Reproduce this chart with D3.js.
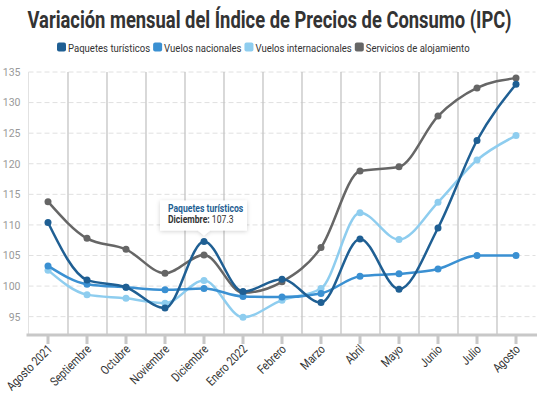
<!DOCTYPE html>
<html>
<head>
<meta charset="utf-8">
<script src="https://cdn.jsdelivr.net/npm/d3@7"></script>
<style>
  body { margin: 0; background: #fff; }
  text { font-family: Roboto, "Noto Sans", sans-serif; }
</style>
</head>
<body>
<div id="chart"></div>
<script>
// data
var months = ["Agosto 2021", "Septiembre", "Octubre", "Noviembre", "Diciembre", "Enero 2022",
  "Febrero", "Marzo", "Abril", "Mayo", "Junio", "Julio", "Agosto"];
var seriesNames = ["Paquetes turísticos", "Vuelos nacionales", "Vuelos internacionales", "Servicios de alojamiento"];
var paquetes = [110.4, 101.0, 99.8, 96.4, 107.3, 99.1, 101.1, 97.3, 107.7, 99.5, 109.5, 123.8, 133.0];
var nacionales = [103.3, 100.3, 99.8, 99.4, 99.6, 98.3, 98.2, 98.8, 101.6, 102.0, 102.8, 105.0, 105.0];
var internacionales = [102.6, 98.6, 98.0, 97.2, 100.9, 94.9, 97.7, 99.6, 112.0, 107.6, 113.7, 120.6, 124.6];
var alojamiento = [113.8, 107.8, 106.0, 102.1, 105.1, 98.9, 100.7, 106.3, 118.8, 119.5, 127.8, 132.4, 134.0];
var yTicks = [95, 100, 105, 110, 115, 120, 125, 130, 135];

var colors = ["#1f5f93", "#3a90d2", "#8ecdef", "#666666"];
var allSeries = [paquetes, nacionales, internacionales, alojamiento];

var svgWidth = 539, svgHeight = 395;
var margin = { top: 72, right: 4, bottom: 60, left: 28.5 };
var width = 535.5 - margin.left;
var height = 335 - margin.top;

var svg = d3.select("#chart").append("svg")
  .attr("width", svgWidth)
  .attr("height", svgHeight);

// squeeze a text to look like a condensed face, returns new width
function condense(sel, k) {
  var total = 0;
  sel.each(function() {
    var w = this.getComputedTextLength() * k;
    total = w;
    d3.select(this).attr("textLength", w).attr("lengthAdjust", "spacingAndGlyphs");
  });
  return total;
}

// title
svg.append("text")
  .attr("x", 269.5).attr("y", 28)
  .attr("text-anchor", "middle")
  .style("font-size", "24px").style("font-weight", "bold").style("fill", "#333")
  .text("Variación mensual del Índice de Precios de Consumo (IPC)")
  .attr("textLength", 484).attr("lengthAdjust", "spacingAndGlyphs");

// legend
var legend = svg.append("g");
var lx = 57;
seriesNames.forEach(function(name, i) {
  legend.append("rect")
    .attr("x", lx).attr("y", 42.5).attr("width", 9).attr("height", 9)
    .attr("rx", 2).attr("fill", colors[i]);
  var t = legend.append("text")
    .attr("x", lx + 11).attr("y", 51.5)
    .style("font-size", "11.5px").style("fill", "#333")
    .text(name);
  var w = condense(t, 0.83);
  lx += 11 + w + 3;
});

var chart = svg.append("g")
  .attr("transform", "translate(" + margin.left + "," + margin.top + ")");

var x = d3.scaleBand().domain(months).range([0, width]);
var y = d3.scaleLinear().domain([92, 135]).range([height, 0]);

function cx(i) { return x(months[i]) + x.bandwidth() / 2; }

// horizontal dashed grid
chart.append("g").selectAll("line")
  .data(yTicks).enter().append("line")
  .attr("x1", 0).attr("x2", width)
  .attr("y1", function(d) { return y(d); }).attr("y2", function(d) { return y(d); })
  .attr("stroke", "#e0e0e0").attr("stroke-dasharray", "5,3");

// vertical band boundaries
chart.append("g").selectAll("line")
  .data(months.slice(1)).enter().append("line")
  .attr("x1", function(d) { return Math.round(x(d)) + 0.5; })
  .attr("x2", function(d) { return Math.round(x(d)) + 0.5; })
  .attr("y1", 0).attr("y2", height)
  .attr("stroke", "#c4c4c4").attr("stroke-width", 1.3);
chart.append("line")
  .attr("x1", 0).attr("x2", 0).attr("y1", 0).attr("y2", height)
  .attr("stroke", "#e2e2e2");

// y axis labels
var leftAxis = d3.axisLeft(y).tickValues(yTicks).tickSize(0).tickPadding(8);
var ya = chart.append("g").call(leftAxis);
ya.select(".domain").remove();
ya.selectAll("text").style("font-size", "10.5px").style("fill", "#999")
  .style("font-family", "Roboto, sans-serif");

// x axis
var bottomAxis = d3.axisBottom(x).tickSize(0).tickPadding(0);
var xa = chart.append("g")
  .attr("transform", "translate(0," + height + ")")
  .call(bottomAxis);
xa.select(".domain").remove();
xa.selectAll("text").remove();
chart.append("line")
  .attr("x1", -2).attr("x2", 537 - margin.left)
  .attr("y1", height).attr("y2", height)
  .attr("stroke", "#c8c8c8").attr("stroke-width", 3);
chart.append("g").selectAll("rect")
  .data(months).enter().append("rect")
  .attr("x", function(d) { return x(d) + x.bandwidth() / 2 - 1.5; })
  .attr("y", height + 1).attr("width", 3).attr("height", 8)
  .attr("fill", "#c8c8c8");
var xl = chart.append("g").selectAll("text")
  .data(months).enter().append("text")
  .attr("transform", function(d) {
    return "translate(" + (x(d) + x.bandwidth() / 2 + 5) + "," + (height + 15) + ") rotate(-45)";
  })
  .attr("text-anchor", "end")
  .style("font-size", "12.5px").style("fill", "#333")
  .text(function(d) { return d; });
condense(xl, 0.82);

// lines
var line = d3.line()
  .x(function(d, i) { return cx(i); })
  .y(function(d) { return y(d); })
  .curve(d3.curveMonotoneX);

var drawOrder = [3, 2, 1, 0];
drawOrder.forEach(function(s) {
  chart.append("path")
    .datum(allSeries[s])
    .attr("d", line)
    .attr("fill", "none")
    .attr("stroke", colors[s])
    .attr("stroke-width", 2.5);
  chart.append("g").selectAll("circle")
    .data(allSeries[s]).enter().append("circle")
    .attr("cx", function(d, i) { return cx(i); })
    .attr("cy", function(d) { return y(d); })
    .attr("r", 3.5)
    .attr("fill", colors[s]);
});

// tooltip on Diciembre, Paquetes turísticos
var defs = svg.append("defs");
var f = defs.append("filter").attr("id", "shadow")
  .attr("x", "-20%").attr("y", "-30%").attr("width", "140%").attr("height", "170%");
f.append("feDropShadow").attr("dx", 0).attr("dy", 1).attr("stdDeviation", 2)
  .attr("flood-color", "#000").attr("flood-opacity", 0.18);

var tipIdx = 4;
var tx = margin.left + cx(tipIdx), ty = margin.top + y(paquetes[tipIdx]);
var boxL = 160, boxR = 247, boxT = 200.5, boxB = 230.5;
var tip = svg.append("g");
tip.append("path")
  .attr("d", "M" + boxL + "," + boxT + "H" + boxR + "V" + boxB +
    "H" + (tx + 6) + "L" + tx + "," + (ty - 6) + "L" + (tx - 6) + "," + boxB +
    "H" + boxL + "Z")
  .attr("fill", "#fff")
  .attr("filter", "url(#shadow)");
var t1 = tip.append("text")
  .attr("x", boxL + 8).attr("y", 212)
  .style("font-size", "10.5px").style("font-weight", "bold").style("fill", colors[0])
  .text(seriesNames[0]);
condense(t1, 0.82);
var t2 = tip.append("text")
  .attr("x", boxL + 8).attr("y", 223)
  .style("font-size", "10.5px").style("fill", "#333");
t2.append("tspan").style("font-weight", "bold").text(months[tipIdx] + ":");
t2.append("tspan").text(" " + paquetes[tipIdx]);
condense(t2, 0.82);
</script>
</body>
</html>
